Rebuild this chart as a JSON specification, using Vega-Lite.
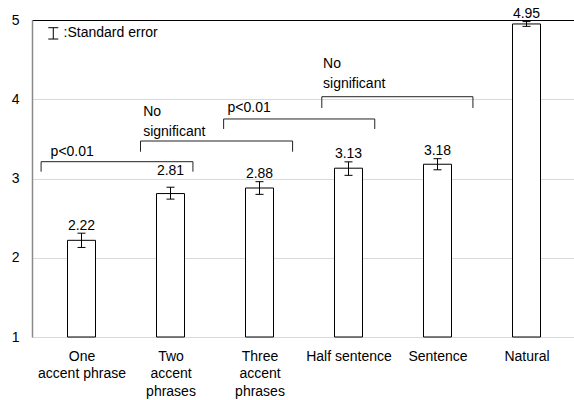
{
  "$schema": "https://vega.github.io/schema/vega-lite/v6.json",
  "width": 544,
  "height": 317,
  "autosize": {"type": "none"},
  "padding": {"left": 32, "top": 20, "right": 0, "bottom": 63},
  "background": "white",
  "config": {
    "font": "Liberation Sans",
    "view": {"stroke": null}
  },
  "datasets": {
    "scores": [
      {"i": 0, "condition": "One accent phrase", "score": 2.22, "lo": 2.13, "hi": 2.31},
      {"i": 1, "condition": "Two accent phrases", "score": 2.81, "lo": 2.74, "hi": 2.89},
      {"i": 2, "condition": "Three accent phrases", "score": 2.88, "lo": 2.80, "hi": 2.96},
      {"i": 3, "condition": "Half sentence", "score": 3.13, "lo": 3.04, "hi": 3.21},
      {"i": 4, "condition": "Sentence", "score": 3.18, "lo": 3.11, "hi": 3.25},
      {"i": 5, "condition": "Natural", "score": 4.95, "lo": 4.92, "hi": 4.98}
    ],
    "brackets": [
      {"x1": -0.454, "x2": 1.252, "top": 3.212, "foot": 3.086},
      {"x1": 0.663, "x2": 2.372, "top": 3.473, "foot": 3.338},
      {"x1": 1.597, "x2": 3.295, "top": 3.751, "foot": 3.625},
      {"x1": 2.700, "x2": 4.398, "top": 4.032, "foot": 3.890}
    ],
    "notes": [
      {"x": -0.347, "y": 3.338, "note": "p<0.01"},
      {"x": 0.693, "y": 3.843, "note": "No\nsignificant"},
      {"x": 1.641, "y": 3.886, "note": "p<0.01"},
      {"x": 2.714, "y": 4.445, "note": "No\nsignificant"},
      {"x": -0.201, "y": 4.836, "note": ":Standard error"}
    ],
    "key": [
      {"x": -0.317, "lo": 4.760, "hi": 4.903}
    ]
  },
  "layer": [
    {
      "data": {"name": "scores"},
      "mark": {"type": "bar", "fill": "white", "stroke": "black", "strokeWidth": 1, "width": 28, "orient": "vertical"},
      "encoding": {
        "x": {
          "field": "i", "type": "quantitative", "title": null,
          "scale": {"domain": [-0.5, 5.5], "nice": false, "zero": false},
          "axis": {
            "title": null, "values": [0, 1, 2, 3, 4, 5], "grid": false, "ticks": false,
            "domainColor": "#d9d9d9", "domainWidth": 1,
            "labelFont": "Liberation Sans", "labelFontSize": 14, "labelColor": "black",
            "labelPadding": 12, "labelLineHeight": 17.5, "labelAlign": "center", "labelBaseline": "top",
            "labelOverlap": false, "labelFlush": false,
            "labelExpr": "datum.value == 0 ? ['One', 'accent phrase'] : datum.value == 1 ? ['Two', 'accent', 'phrases'] : datum.value == 2 ? ['Three', 'accent', 'phrases'] : datum.value == 3 ? 'Half sentence' : datum.value == 4 ? 'Sentence' : 'Natural'"
          }
        },
        "y": {
          "field": "score", "type": "quantitative", "title": null,
          "scale": {"domain": [1, 5], "nice": false, "zero": false},
          "axis": {
            "title": null, "values": [1, 2, 3, 4, 5], "format": "d", "ticks": false,
            "grid": true,
            "gridColor": {"condition": {"test": "datum.value === 5", "value": "black"}, "value": "#d9d9d9"},
            "gridWidth": 1,
            "domainColor": "#8a8a8a", "domainWidth": 1.5,
            "labelFont": "Liberation Sans", "labelFontSize": 14, "labelColor": "black",
            "labelPadding": 13
          }
        },
        "y2": {"datum": 1}
      }
    },
    {
      "data": {"name": "scores"},
      "mark": {"type": "rule", "color": "black", "strokeWidth": 1},
      "encoding": {
        "x": {"field": "i", "type": "quantitative", "title": null},
        "y": {"field": "lo", "type": "quantitative", "title": null},
        "y2": {"field": "hi"}
      }
    },
    {
      "data": {"name": "scores"},
      "mark": {"type": "tick", "orient": "horizontal", "size": 8, "thickness": 1, "color": "black", "opacity": 1},
      "encoding": {
        "x": {"field": "i", "type": "quantitative", "title": null},
        "y": {"field": "lo", "type": "quantitative", "title": null}
      }
    },
    {
      "data": {"name": "scores"},
      "mark": {"type": "tick", "orient": "horizontal", "size": 8, "thickness": 1, "color": "black", "opacity": 1},
      "encoding": {
        "x": {"field": "i", "type": "quantitative", "title": null},
        "y": {"field": "hi", "type": "quantitative", "title": null}
      }
    },
    {
      "data": {"name": "scores"},
      "transform": [{"filter": "datum.i != 1"}],
      "mark": {"type": "text", "baseline": "middle", "align": "center", "dy": -7.5, "font": "Liberation Sans", "fontSize": 14, "color": "black"},
      "encoding": {
        "x": {"field": "i", "type": "quantitative", "title": null},
        "y": {"field": "hi", "type": "quantitative", "title": null},
        "text": {"field": "score", "type": "quantitative", "format": ".2f"}
      }
    },
    {
      "data": {"name": "scores"},
      "transform": [{"filter": "datum.i == 1"}],
      "mark": {"type": "text", "baseline": "middle", "align": "center", "dy": -16, "font": "Liberation Sans", "fontSize": 14, "color": "black"},
      "encoding": {
        "x": {"field": "i", "type": "quantitative", "title": null},
        "y": {"field": "hi", "type": "quantitative", "title": null},
        "text": {"field": "score", "type": "quantitative", "format": ".2f"}
      }
    },
    {
      "data": {"name": "brackets"},
      "mark": {"type": "rule", "color": "#222222", "strokeWidth": 1},
      "encoding": {
        "x": {"field": "x1", "type": "quantitative", "title": null},
        "x2": {"field": "x2"},
        "y": {"field": "top", "type": "quantitative", "title": null}
      }
    },
    {
      "data": {"name": "brackets"},
      "mark": {"type": "rule", "color": "#222222", "strokeWidth": 1},
      "encoding": {
        "x": {"field": "x1", "type": "quantitative", "title": null},
        "y": {"field": "top", "type": "quantitative", "title": null},
        "y2": {"field": "foot"}
      }
    },
    {
      "data": {"name": "brackets"},
      "mark": {"type": "rule", "color": "#222222", "strokeWidth": 1},
      "encoding": {
        "x": {"field": "x2", "type": "quantitative", "title": null},
        "y": {"field": "top", "type": "quantitative", "title": null},
        "y2": {"field": "foot"}
      }
    },
    {
      "data": {"name": "notes"},
      "mark": {"type": "text", "align": "left", "baseline": "middle", "lineBreak": "\n", "lineHeight": 20, "font": "Liberation Sans", "fontSize": 14, "color": "black"},
      "encoding": {
        "x": {"field": "x", "type": "quantitative", "title": null},
        "y": {"field": "y", "type": "quantitative", "title": null},
        "text": {"field": "note", "type": "nominal"}
      }
    },
    {
      "data": {"name": "key"},
      "mark": {"type": "rule", "color": "black", "strokeWidth": 1},
      "encoding": {
        "x": {"field": "x", "type": "quantitative", "title": null},
        "y": {"field": "lo", "type": "quantitative", "title": null},
        "y2": {"field": "hi"}
      }
    },
    {
      "data": {"name": "key"},
      "mark": {"type": "tick", "orient": "horizontal", "size": 10, "thickness": 1, "color": "black", "opacity": 1},
      "encoding": {
        "x": {"field": "x", "type": "quantitative", "title": null},
        "y": {"field": "lo", "type": "quantitative", "title": null}
      }
    },
    {
      "data": {"name": "key"},
      "mark": {"type": "tick", "orient": "horizontal", "size": 10, "thickness": 1, "color": "black", "opacity": 1},
      "encoding": {
        "x": {"field": "x", "type": "quantitative", "title": null},
        "y": {"field": "hi", "type": "quantitative", "title": null}
      }
    }
  ]
}
